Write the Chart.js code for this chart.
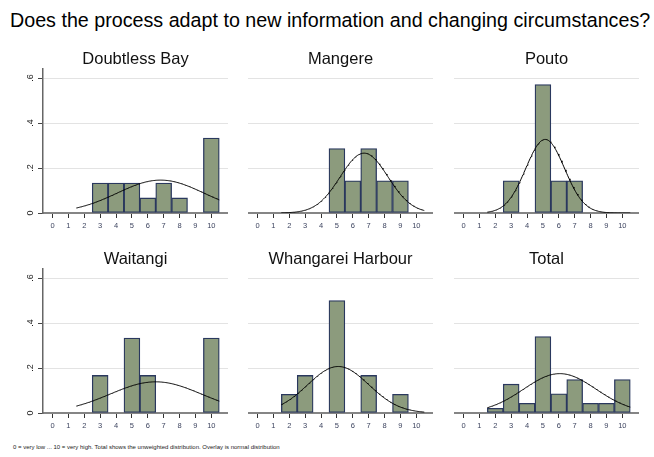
<!DOCTYPE html>
<html>
<head>
<meta charset="utf-8">
<script src="https://cdn.jsdelivr.net/npm/chart.js@4.4.0/dist/chart.umd.min.js"></script>
<style>
  body { margin: 0; background: #fff; width: 654px; height: 457px; position: relative; overflow: hidden; font-family: 'Liberation Sans', Arial, sans-serif; }
  .title { position: absolute; left: 10px; top: 8px; font-size: 19.7px; line-height: 24px; color: #000; white-space: nowrap; }
  .note { position: absolute; left: 13px; top: 443px; font-size: 6px; line-height: 8px; color: #222; white-space: nowrap; }
  .panel { position: absolute; }
</style>
</head>
<body>
<div class="title">Does the process adapt to new information and changing circumstances?</div>

<div class="panel" style="left:0px;top:50px"><canvas id="c0" width="228" height="183"></canvas></div>
<div class="panel" style="left:248px;top:50px"><canvas id="c1" width="185" height="183"></canvas></div>
<div class="panel" style="left:454px;top:50px"><canvas id="c2" width="185" height="183"></canvas></div>
<div class="panel" style="left:0px;top:250px"><canvas id="c3" width="228" height="183"></canvas></div>
<div class="panel" style="left:248px;top:250px"><canvas id="c4" width="185" height="183"></canvas></div>
<div class="panel" style="left:454px;top:250px"><canvas id="c5" width="185" height="183"></canvas></div>

<div class="note">0 = very low ... 10 = very high. Total shows the unweighted distribution. Overlay is normal distribution</div>

<script>
// score bins (x) and share of answers in each bin (y)
const bins = [0, 1, 2, 3, 4, 5, 6, 7, 8, 9, 10];
const panelTitles = ['Doubtless Bay', 'Mangere', 'Pouto', 'Waitangi', 'Whangarei Harbour', 'Total'];

const doubtlessBay = [null, null, null, 0.133, 0.133, 0.133, 0.067, 0.133, 0.067, null, 0.333];
const mangere = [null, null, null, null, null, 0.286, 0.143, 0.286, 0.143, 0.143, null];
const pouto = [null, null, null, 0.143, null, 0.571, 0.143, 0.143, null, null, null];
const waitangi = [null, null, null, 0.167, null, 0.333, 0.167, null, null, null, 0.333];
const whangarei = [null, null, 0.083, 0.167, null, 0.5, null, 0.167, null, 0.083, null];
const total = [null, null, 0.021, 0.128, 0.043, 0.34, 0.085, 0.149, 0.043, 0.043, 0.149];

// normal overlay: mean and sd for each panel
const normalMean = [6.8, 6.71, 5.14, 6.5, 5.08, 6.06];
const normalSd = [2.73, 1.5, 1.22, 2.88, 1.93, 2.28];
const curveFrom = 1.5;
const curveTo = 10.5;

const yTicks = [0, 0.2, 0.4, 0.6];
const yTickLabels = ['0', '.2', '.4', '.6'];

const series = [doubtlessBay, mangere, pouto, waitangi, whangarei, total];

function normalPoints(mean, sd) {
  let pts = [];
  for (let i = 0; i <= 180; i++) {
    let x = curveFrom + (curveTo - curveFrom) * i / 180;
    let z = (x - mean) / sd;
    pts.push({ x: x, y: Math.exp(-0.5 * z * z) / (sd * Math.sqrt(2 * Math.PI)) });
  }
  return pts;
}

series.forEach(function (values, idx) {
  let firstCol = idx % 3 == 0;
  let bars = [];
  bins.forEach((b, i) => {
    if (values[i] != null) bars.push({ x: b, y: values[i] });
  });

  new Chart(document.getElementById('c' + idx), {
    type: 'bar',
    data: {
      datasets: [
        {
          type: 'line',
          data: normalPoints(normalMean[idx], normalSd[idx]),
          borderColor: '#000',
          borderWidth: 1,
          pointRadius: 0,
          tension: 0,
          fill: false,
          order: 1,
        },
        {
          data: bars,
          backgroundColor: '#8c9b7d',
          borderColor: '#2a385e',
          borderWidth: 1.3,
          borderSkipped: false,
          barPercentage: 1,
          categoryPercentage: 1,
          order: 2,
        },
      ],
    },
    options: {
      responsive: false,
      animation: false,
      layout: { padding: 0 },
      plugins: {
        legend: { display: false },
        tooltip: { enabled: false },
        title: {
          display: true,
          text: panelTitles[idx],
          fullSize: false,
          color: '#111',
          padding: 0,
          font: { family: "'Liberation Sans', Arial, sans-serif", size: 16.5, weight: 'normal', lineHeight: '19px' },
        },
      },
      scales: {
        x: {
          type: 'linear',
          min: -0.6,
          max: 11.05,
          offset: false,
          afterBuildTicks: (scale) => {
            scale.ticks = bins.map((v) => ({ value: v }));
          },
          afterFit: (scale) => {
            scale.height = 20;
          },
          grid: {
            offset: false,
            drawOnChartArea: false,
            drawTicks: true,
            tickLength: 5,
            tickColor: '#333',
            tickWidth: 1,
          },
          border: { display: true, color: '#858585', width: 2 },
          ticks: {
            padding: 3,
            maxRotation: 0,
            autoSkip: false,
            color: '#3e4560',
            font: { family: "'Liberation Sans', Arial, sans-serif", size: 7.5 },
          },
        },
        y: {
          min: 0,
          max: 0.64,
          afterBuildTicks: (scale) => {
            scale.ticks = yTicks.map((v) => ({ value: v }));
          },
          afterFit: (scale) => {
            scale.width = firstCol ? 43 : 0;
          },
          grid: {
            color: (ctx) => (ctx.tick && ctx.tick.value == 0 ? 'rgba(0,0,0,0)' : '#e3e3e3'),
            lineWidth: 1,
            drawTicks: firstCol,
            tickLength: 5,
            tickColor: '#444',
          },
          border: { display: firstCol, color: '#666', width: 1.5 },
          ticks: {
            display: firstCol,
            padding: 4,
            minRotation: 90,
            maxRotation: 90,
            crossAlign: 'center',
            color: '#222',
            font: { family: "'Liberation Sans', Arial, sans-serif", size: 9 },
            callback: (v, i) => yTickLabels[i],
          },
        },
      },
    },
  });
});
</script>
</body>
</html>
